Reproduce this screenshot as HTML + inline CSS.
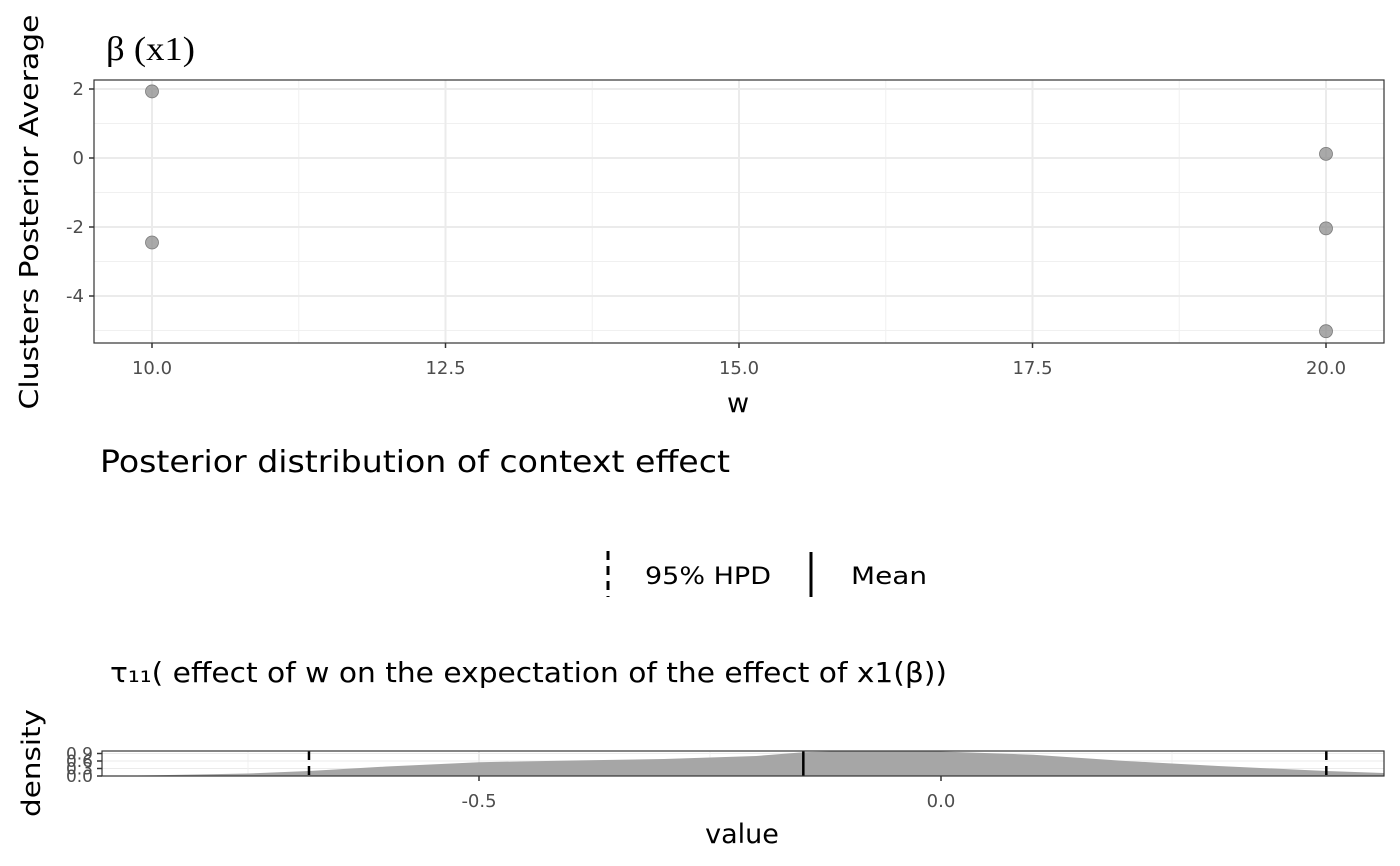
<!DOCTYPE html>
<html><head><meta charset="utf-8"><style>
html,body{margin:0;padding:0;background:#fff;}
svg{display:block;font-family:"DejaVu Sans","Liberation Sans",sans-serif;}
</style></head><body>
<svg id="c" width="1400" height="866" viewBox="0 0 1400 866">
<g id="top"></g>
<g id="bot"></g>
</svg>
<script>
const topW=[10,10,20,20,20];
const topVals=[1.93,-2.45,0.12,-2.04,-5.02];
const topXTicks=[10,12.5,15,17.5,20];
const topXTickLabels=["10.0","12.5","15.0","17.5","20.0"];
const topYTicks=[2,0,-2,-4];
const densX=[-0.907,-0.85,-0.75,-0.684,-0.6,-0.5,-0.4,-0.3,-0.2,-0.149,-0.1,0,0.1,0.2,0.3,0.417,0.479];
const densY=[0.0,0.03,0.1,0.2,0.38,0.55,0.62,0.68,0.8,0.95,1.0,0.98,0.85,0.6,0.4,0.2,0.12];
const hpd=[-0.684,0.417];
const meanVal=-0.149;
const botXTicks=[-0.5,0];
const botXTickLabels=["-0.5","0.0"];
const botYTickLabels=["0.0","0.3","0.6","0.9"];
const botYTicks=[0,0.3,0.6,0.9];

const NS="http://www.w3.org/2000/svg";
function mk(parent,tag,attrs,name,text){const e=document.createElementNS(NS,tag);for(const k in attrs)e.setAttribute(k,attrs[k]);


if(text!==undefined)e.textContent=text;parent.appendChild(e);return e;}

const T=document.getElementById('top');
const tx=v=>152+(v-10)*117.4, ty=v=>158-v*34.5;
const pL=94,pR=1384,pT=80,pB=343;
mk(T,'rect',{x:pL,y:pT,width:pR-pL,height:pB-pT,fill:'#fff'},'plot-bg');
for(let v=11.25;v<20;v+=2.5)mk(T,'line',{x1:tx(v),x2:tx(v),y1:pT,y2:pB,stroke:'#f0f0f0','stroke-width':1},'minor-gridline');
for(let v=-5;v<=1;v+=2)mk(T,'line',{x1:pL,x2:pR,y1:ty(v),y2:ty(v),stroke:'#f0f0f0','stroke-width':1},'minor-gridline');
topXTicks.forEach((v,i)=>{mk(T,'line',{x1:tx(v),x2:tx(v),y1:pT,y2:pB,stroke:'#ebebeb','stroke-width':2},'x-gridline');
mk(T,'line',{x1:tx(v),x2:tx(v),y1:pB,y2:pB+5,stroke:'#333','stroke-width':1.5},'x-tick');
mk(T,'text',{x:tx(v),y:pB+31,'text-anchor':'middle','font-size':18,fill:'#4d4d4d'},'x-tick-label',topXTickLabels[i]);});
topYTicks.forEach(v=>{mk(T,'line',{x1:pL,x2:pR,y1:ty(v),y2:ty(v),stroke:'#ebebeb','stroke-width':2},'y-gridline');
mk(T,'line',{x1:pL-5,x2:pL,y1:ty(v),y2:ty(v),stroke:'#333','stroke-width':1.5},'y-tick');
mk(T,'text',{x:pL-10,y:ty(v)+6,'text-anchor':'end','font-size':18,fill:'#4d4d4d'},'y-tick-label',String(v));});
topW.forEach((w,i)=>mk(T,'circle',{cx:tx(w),cy:ty(topVals[i]),r:6.5,fill:'#8c8c8c','fill-opacity':0.75,stroke:'#7a7a7a','stroke-width':0.8},'cluster-point'));
mk(T,'rect',{x:pL,y:pT,width:pR-pL,height:pB-pT,fill:'none',stroke:'#333','stroke-width':1.2},'plot-border');
mk(T,'text',{x:738,y:412,'text-anchor':'middle','font-size':27,fill:'#000'},'x-axis-title','w');
mk(T,'text',{x:0,y:0,transform:'translate(38,212) rotate(-90)','text-anchor':'middle','font-size':26,fill:'#000',textLength:395,lengthAdjust:'spacingAndGlyphs'},'y-axis-title','Clusters Posterior Average');
mk(T,'text',{x:106,y:60,'font-size':34,'font-family':'Liberation Serif,serif',fill:'#000',textLength:89,lengthAdjust:'spacingAndGlyphs'},'panel-title','β (x1)');

const C=document.getElementById('c');
mk(C,'text',{x:100,y:472,'font-size':30,fill:'#000',textLength:630,lengthAdjust:'spacingAndGlyphs'},'figure-title','Posterior distribution of context effect');
mk(C,'line',{x1:608,x2:608,y1:551,y2:597,stroke:'#000','stroke-width':3,'stroke-dasharray':'9 6'},'legend-hpd-key');
mk(C,'text',{x:645,y:584,'font-size':24,fill:'#000',textLength:126,lengthAdjust:'spacingAndGlyphs'},'legend-hpd-label','95% HPD');
mk(C,'line',{x1:811,x2:811,y1:552,y2:597,stroke:'#000','stroke-width':3},'legend-mean-key');
mk(C,'text',{x:851,y:584,'font-size':24,fill:'#000',textLength:76,lengthAdjust:'spacingAndGlyphs'},'legend-mean-label','Mean');
mk(C,'text',{x:110,y:682,'font-size':28,fill:'#000',textLength:837,lengthAdjust:'spacingAndGlyphs'},'density-title','τ₁₁( effect of w on the expectation of the effect of x1(β))');

const B=document.getElementById('bot');
const bL=102,bR=1384,bT=751,bB=776;
const bx=v=>941+v*924, by=v=>bB-v*(bB-bT)/1.0;
mk(B,'rect',{x:bL,y:bT,width:bR-bL,height:bB-bT,fill:'#fff'},'plot-bg');
botYTicks.forEach(v=>mk(B,'line',{x1:bL,x2:bR,y1:by(v),y2:by(v),stroke:'#ebebeb','stroke-width':1},'y-gridline'));
[-0.75,-0.25,0.25].forEach(v=>mk(B,'line',{x1:bx(v),x2:bx(v),y1:bT,y2:bB,stroke:'#f0f0f0'},'minor-gridline'));
botXTicks.forEach(v=>mk(B,'line',{x1:bx(v),x2:bx(v),y1:bT,y2:bB,stroke:'#ebebeb','stroke-width':2},'x-gridline'));
let d='M'+bx(densX[0])+','+bB;
densX.forEach((v,i)=>d+=' L'+bx(v)+','+by(densY[i]));
d+=' L'+bx(densX[densX.length-1])+','+bB+' Z';
mk(B,'path',{d:d,fill:'#a6a6a6',stroke:'none'},'density-area');
hpd.forEach(v=>mk(B,'line',{x1:bx(v),x2:bx(v),y1:bT,y2:bB,stroke:'#000','stroke-width':2.5,'stroke-dasharray':'9 6'},'hpd-line'));
mk(B,'line',{x1:bx(meanVal),x2:bx(meanVal),y1:bT,y2:bB,stroke:'#000','stroke-width':2.5},'mean-line');
mk(B,'rect',{x:bL,y:bT,width:bR-bL,height:bB-bT,fill:'none',stroke:'#333','stroke-width':1.2},'plot-border');
botXTicks.forEach((v,i)=>{mk(B,'line',{x1:bx(v),x2:bx(v),y1:bB,y2:bB+5,stroke:'#333','stroke-width':1.5},'x-tick');
mk(B,'text',{x:bx(v),y:bB+31,'text-anchor':'middle','font-size':18,fill:'#4d4d4d'},'x-tick-label',botXTickLabels[i]);});
botYTicks.forEach((v,i)=>{mk(B,'line',{x1:bL-5,x2:bL,y1:by(v),y2:by(v),stroke:'#333','stroke-width':1.5},'y-tick');
mk(B,'text',{x:bL-9,y:by(v)+6,'text-anchor':'end','font-size':17,fill:'#4d4d4d'},'y-tick-label',botYTickLabels[i]);});
mk(B,'text',{x:742,y:843,'text-anchor':'middle','font-size':27,fill:'#000'},'x-axis-title','value');
mk(B,'text',{x:0,y:0,transform:'translate(40,763) rotate(-90)','text-anchor':'middle','font-size':26,fill:'#000',textLength:108,lengthAdjust:'spacingAndGlyphs'},'y-axis-title','density');
</script>
</body></html>
